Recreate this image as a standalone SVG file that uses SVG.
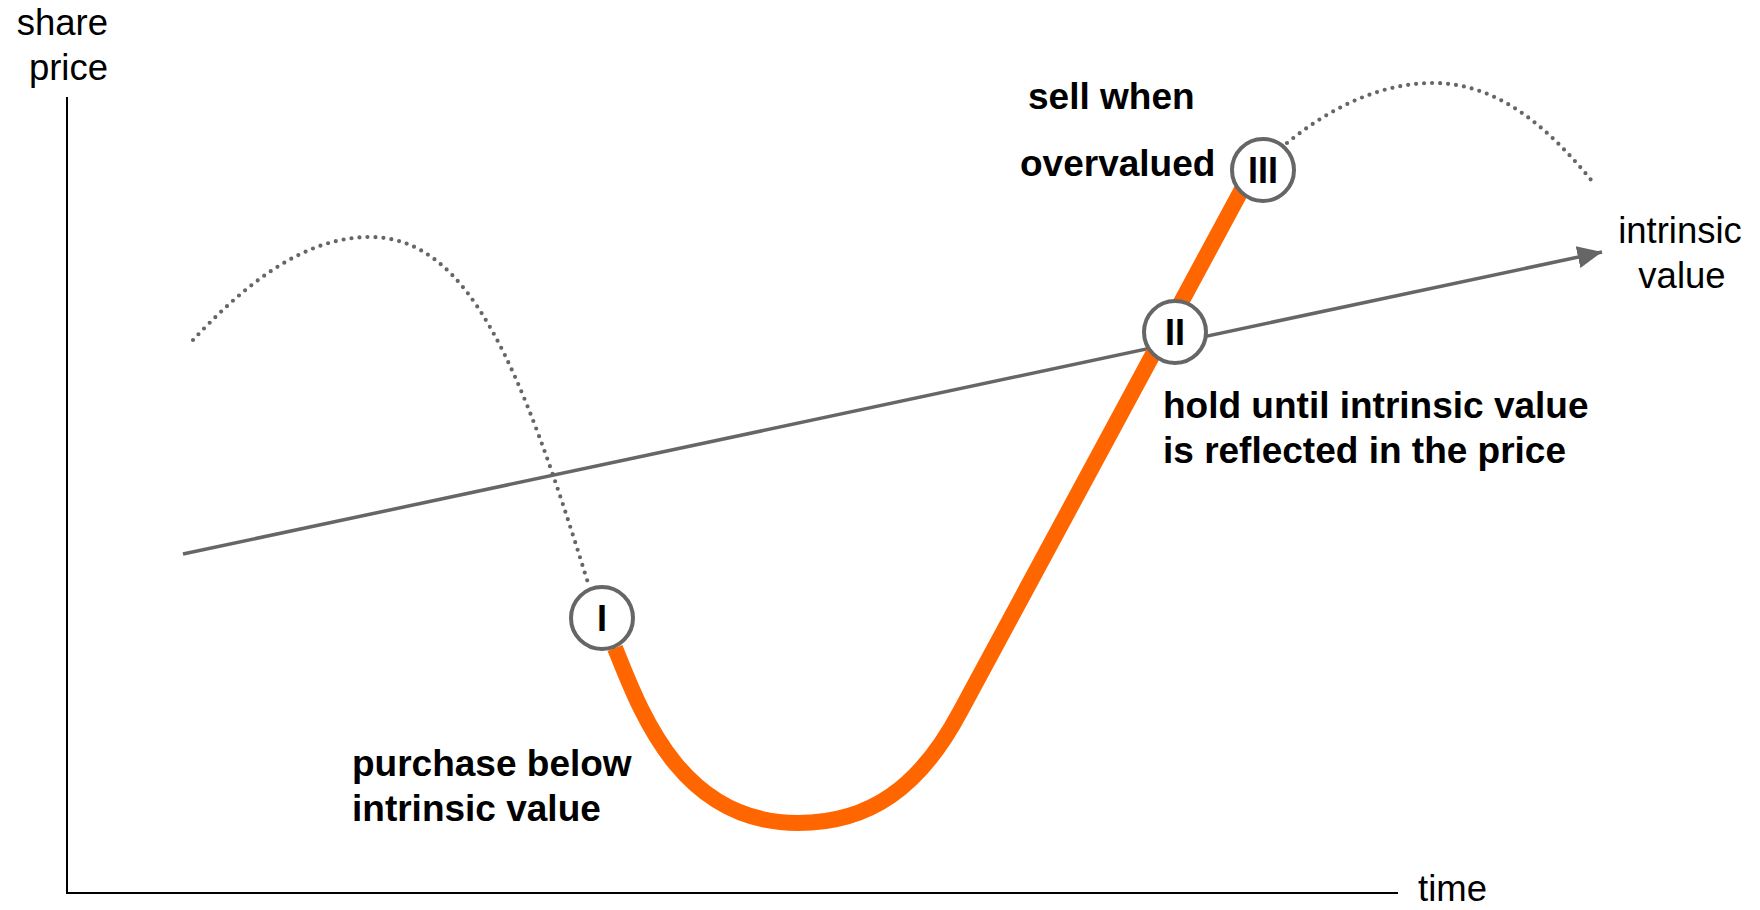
<svg xmlns="http://www.w3.org/2000/svg" width="1760" height="910" viewBox="0 0 1760 910">
<style>
.lbl{font-family:"Liberation Sans",Arial,sans-serif;font-size:36.5px;fill:#000}
.b{font-weight:bold;font-size:37px}
.num{font-family:"Liberation Sans",Arial,sans-serif;font-size:36px;font-weight:bold;fill:#000;text-anchor:middle}
.dot{fill:none;stroke:#666;stroke-width:4.2;stroke-linecap:round;stroke-dasharray:0 8}
.node circle{fill:#fff;stroke:#666;stroke-width:4}
</style>
<defs>
<marker id="arr" markerWidth="8" markerHeight="8" refX="7" refY="4" orient="auto" markerUnits="strokeWidth">
<path d="M0,0.8 L7,4 L0,7.2 Z" fill="#666"/>
</marker>
</defs>
<rect width="1760" height="910" fill="#fff"/>
<g id="axes">
<path d="M67 97 L67 893 L1398 893" fill="none" stroke="#000" stroke-width="2"/>
<text class="lbl" x="108" y="35" text-anchor="end">share</text>
<text class="lbl" x="108" y="80" text-anchor="end">price</text>
<text class="lbl" x="1418" y="901">time</text>
</g>
<g id="connectors">
<path class="dot" d="M193 340 C240 290 300 237 370 237 C470 237 522 370 588 583"/>
<path class="dot" d="M1287 143 C1330 108 1380 83 1433 83 C1500 83 1550 130 1592 181"/>
<line x1="183" y1="554" x2="1602" y2="252" stroke="#666" stroke-width="3.5" marker-end="url(#arr)"/>
<path d="M615 648 C640 710 680 823 798 823 C870 823 920 787 960 712 L1247 180" fill="none" stroke="#FF6600" stroke-width="16"/>
</g>
<g id="intrinsic-label">
<text class="lbl" x="1680" y="243" text-anchor="middle">intrinsic</text>
<text class="lbl" x="1682" y="288" text-anchor="middle">value</text>
</g>
<g id="node-I" class="node">
<circle cx="602" cy="618" r="31"/>
<text class="num" x="602" y="631">I</text>
</g>
<g id="node-II" class="node">
<circle cx="1175" cy="332" r="31"/>
<text class="num" x="1175" y="345">II</text>
</g>
<g id="node-III" class="node">
<circle cx="1263" cy="170" r="31"/>
<text class="num" x="1263" y="183">III</text>
</g>
<g id="label-purchase">
<text class="lbl b" x="352" y="776">purchase below</text>
<text class="lbl b" x="352" y="821">intrinsic value</text>
</g>
<g id="label-hold">
<text class="lbl b" x="1163" y="418">hold until intrinsic value</text>
<text class="lbl b" x="1163" y="463">is reflected in the price</text>
</g>
<g id="label-sell">
<text class="lbl b" x="1028" y="109">sell when</text>
<text class="lbl b" x="1020" y="176">overvalued</text>
</g>
</svg>
